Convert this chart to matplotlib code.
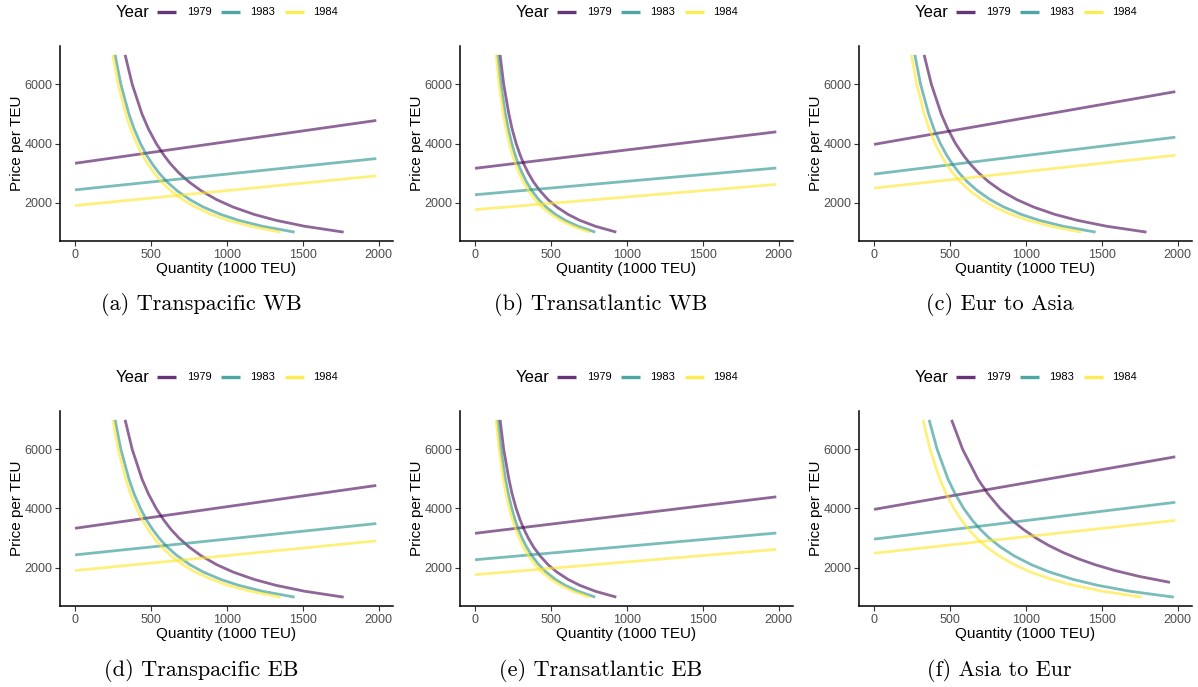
"""Supply / demand curves by trade route, 1979, 1983 and 1984."""

import matplotlib

matplotlib.use("Agg")

import matplotlib.pyplot as plt  # noqa: E402

# ---------------------------------------------------------------------------
# Data
# ---------------------------------------------------------------------------

YEARS = ["1979", "1983", "1984"]
COLORS = {"1979": "#440154", "1983": "#21908C", "1984": "#FDE725"}

# supply lines: price at quantity 0 and at the right end
SUPPLY_Q = [0, 1985]

# demand curves: quantity at each price level
DEMAND_P = [7000, 6000, 5000, 4500, 4000, 3600, 3300, 3000,
            2700, 2400, 2100, 1850, 1600, 1400, 1200, 1000]

tp_supply = {"1979": [3330, 4780], "1983": [2430, 3490], "1984": [1900, 2905]}
tp_demand_q = {
    "1979": [330, 377, 441, 483, 535, 586, 631, 685, 751, 831, 933, 1041, 1180, 1324, 1512, 1770],
    "1983": [264, 302, 355, 389, 431, 472, 510, 554, 607, 673, 757, 845, 960, 1078, 1234, 1447],
    "1984": [249, 285, 334, 366, 406, 445, 480, 521, 571, 632, 710, 793, 899, 1010, 1155, 1353],
}

ta_supply = {"1979": [3160, 4395], "1983": [2265, 3170], "1984": [1760, 2615]}
ta_demand_q = {
    "1979": [165, 189, 223, 244, 271, 298, 322, 351, 385, 428, 481, 539, 613, 690, 792, 931],
    "1983": [150, 171, 200, 219, 242, 265, 285, 310, 339, 375, 420, 468, 530, 594, 678, 792],
    "1984": [139, 159, 186, 204, 226, 248, 268, 291, 318, 353, 396, 442, 502, 564, 644, 755],
}

ea_supply = {"1979": [3970, 5755], "1983": [2965, 4212], "1984": [2490, 3603]}
ea_demand_q = {
    "1979": [330, 378, 443, 485, 537, 589, 635, 690, 756, 838, 941, 1051, 1192, 1339, 1532, 1795],
    "1983": [269, 307, 360, 394, 437, 479, 517, 561, 615, 682, 766, 855, 970, 1089, 1246, 1460],
    "1984": [246, 282, 331, 363, 403, 442, 478, 519, 570, 632, 711, 795, 903, 1016, 1164, 1367],
}

# eastbound transpacific / transatlantic panels look identical to westbound
tp_eb_supply = {"1979": [3330, 4780], "1983": [2430, 3490], "1984": [1900, 2905]}
tp_eb_demand_q = {
    "1979": [330, 377, 441, 483, 535, 586, 631, 685, 751, 831, 933, 1041, 1180, 1324, 1512, 1770],
    "1983": [264, 302, 355, 389, 431, 472, 510, 554, 607, 673, 757, 845, 960, 1078, 1234, 1447],
    "1984": [249, 285, 334, 366, 406, 445, 480, 521, 571, 632, 710, 793, 899, 1010, 1155, 1353],
}

ta_eb_supply = {"1979": [3160, 4395], "1983": [2265, 3170], "1984": [1760, 2615]}
ta_eb_demand_q = {
    "1979": [165, 189, 223, 244, 271, 298, 322, 351, 385, 428, 481, 539, 613, 690, 792, 931],
    "1983": [150, 171, 200, 219, 242, 265, 285, 310, 339, 375, 420, 468, 530, 594, 678, 792],
    "1984": [139, 159, 186, 204, 226, 248, 268, 291, 318, 353, 396, 442, 502, 564, 644, 755],
}

# Asia to Eur: 1979 demand stops at a higher price
ae_supply = {"1979": [3970, 5750], "1983": [2963, 4210], "1984": [2487, 3597]}
ae_1979_p = [7000, 6000, 5000, 4500, 4000, 3600, 3300, 3000,
             2750, 2500, 2300, 2100, 1900, 1700, 1500]
ae_demand_q = {
    "1979": [511, 584, 684, 750, 831, 910, 982, 1067, 1151, 1250, 1345, 1455, 1587, 1749, 1950],
    "1983": [363, 416, 487, 534, 591, 648, 699, 759, 832, 922, 1036, 1156, 1312, 1474, 1685, 1975],
    "1984": [323, 369, 433, 475, 526, 577, 622, 676, 741, 822, 923, 1031, 1171, 1316, 1505, 1765],
}
ae_demand_p = {"1979": ae_1979_p, "1983": DEMAND_P, "1984": DEMAND_P}

PANELS = [
    ("(a) Transpacific WB", tp_supply, tp_demand_q, None),
    ("(b) Transatlantic WB", ta_supply, ta_demand_q, None),
    ("(c) Eur to Asia", ea_supply, ea_demand_q, None),
    ("(d) Transpacific EB", tp_eb_supply, tp_eb_demand_q, None),
    ("(e) Transatlantic EB", ta_eb_supply, ta_eb_demand_q, None),
    ("(f) Asia to Eur", ae_supply, ae_demand_q, ae_demand_p),
]

# ---------------------------------------------------------------------------
# Figure
# ---------------------------------------------------------------------------

W, H = 1198, 687
plt.rcParams["font.family"] = ["Liberation Sans", "DejaVu Sans"]

fig = plt.figure(figsize=(W / 100, H / 100), dpi=100)

AX_W, AX_H = 333, 195
COL_X = [60, 460, 859]
ROW_TOP = [46, 411]

for i, (caption, supply, demand_q, demand_p) in enumerate(PANELS):
    row, col = divmod(i, 3)
    left = COL_X[col]
    top = ROW_TOP[row]
    ax = fig.add_axes([left / W, 1 - (top + AX_H) / H, AX_W / W, AX_H / H])

    for year in YEARS:
        color = COLORS[year]
        ax.plot(SUPPLY_Q, supply[year], color=color, lw=2.0, alpha=0.6,
                solid_capstyle="butt")
        ps = demand_p[year] if demand_p else DEMAND_P
        ax.plot(demand_q[year], ps, color=color, lw=2.0, alpha=0.6,
                solid_capstyle="butt", solid_joinstyle="round")

    ax.set_xlim(-99, 2095)
    ax.set_ylim(700, 7300)
    ax.set_xticks([0, 500, 1000, 1500, 2000])
    ax.set_yticks([2000, 4000, 6000])
    for side in ("top", "right"):
        ax.spines[side].set_visible(False)
    for side in ("left", "bottom"):
        ax.spines[side].set_linewidth(1.1)
        ax.spines[side].set_color("black")
    ax.tick_params(axis="both", length=3.5, width=0.8, color="#333333",
                   labelsize=9, labelcolor="#4D4D4D", pad=2)
    ax.set_xlabel("Quantity (1000 TEU)", fontsize=11, labelpad=1)
    ax.set_ylabel("Price per TEU", fontsize=11, labelpad=0.5)

    # legend strip above the panel
    ly = 1.174
    ax.text(0.168, ly, "Year", transform=ax.transAxes, fontsize=12,
            ha="left", va="center")
    key_x = [(0.290, 0.348, 0.381), (0.483, 0.541, 0.571), (0.676, 0.733, 0.760)]
    for year, (x0, x1, xt) in zip(YEARS, key_x):
        ax.plot([x0, x1], [ly, ly], transform=ax.transAxes, color=COLORS[year],
                lw=2.4, alpha=0.8, clip_on=False, solid_capstyle="butt")
        ax.text(xt, ly, year, transform=ax.transAxes, fontsize=8,
                ha="left", va="center")

    cx = (col * 399.3 + 201) / W
    cy = 1 - (305 + row * 365) / H
    fig.text(cx, cy, caption, ha="center", va="center", fontsize=16,
             family="cmr10")

fig.savefig("out.png", dpi=100)
plt.close(fig)
